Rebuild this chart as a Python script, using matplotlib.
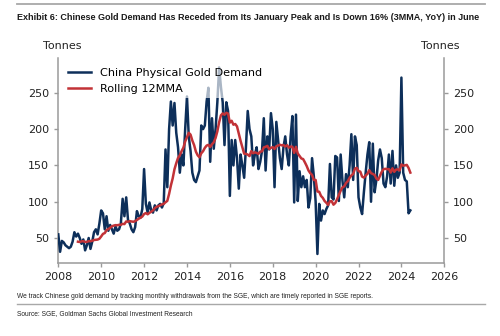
import matplotlib
matplotlib.use("Agg")
import matplotlib.pyplot as plt
from matplotlib.lines import Line2D
import pandas as pd

# Monthly China physical gold demand (tonnes), Jan 2008 - Jun 2024
demand = [
    55, 31, 46, 44, 40, 38, 36, 38, 45, 58, 52, 56,          # 2008
    50, 42, 48, 33, 40, 50, 35, 45, 58, 62, 55, 70,          # 2009
    88, 84, 62, 80, 60, 68, 62, 56, 66, 60, 62, 70,          # 2010
    104, 80, 106, 75, 70, 62, 58, 65, 87, 80, 78, 90,        # 2011
    145, 97, 85, 99, 88, 85, 95, 88, 95, 97, 92, 98,         # 2012
    172, 120, 200, 238, 205, 236, 195, 175, 140, 165, 150, 200,  # 2013
    245, 190, 170, 140, 130, 127, 135, 143, 205, 200, 205, 238,  # 2014
    257, 155, 215, 173, 200, 237, 285, 258, 237, 178, 237, 225,  # 2015
    108, 185, 150, 185, 160, 118, 165, 150, 133, 175, 225, 200,  # 2016
    190, 150, 165, 175, 145, 155, 170, 215, 143, 190, 172, 222,  # 2017
    200, 120, 210, 185, 160, 145, 175, 190, 165, 150, 190, 218,  # 2018
    99, 220, 101, 142, 120, 135, 120, 130, 92, 105, 160, 135,    # 2019
    100, 28, 97, 74, 88, 83, 90, 95, 152, 106, 103, 163,         # 2020
    161, 101, 165, 129, 106, 138, 120, 150, 193, 130, 190, 178,  # 2021
    106, 92, 83, 113, 140, 165, 182, 100, 180, 113, 130, 157,    # 2022
    172, 160, 125, 120, 135, 165, 125, 170, 122, 150, 133, 140,  # 2023
    271, 140, 130, 128, 84, 88,                                  # 2024
]
start_month = "2008-01-01"

x_ticks = list(range(2008, 2027, 2))
y_ticks = [50, 100, 150, 200, 250]

title = ("Exhibit 6: Chinese Gold Demand Has Receded from Its January Peak "
         "and Is Down 16% (3MMA, YoY) in June")
note = ("We track Chinese gold demand by tracking monthly withdrawals from the SGE, "
        "which are timely reported in SGE reports.")
source = "Source: SGE, Goldman Sachs Global Investment Research"

NAVY = "#0d2f5a"
RED = "#c23237"
GREY = "#9a9a9a"
HEADER_FONT = "Liberation Sans"

dates = pd.date_range(start_month, periods=len(demand), freq="MS")
s = pd.Series(demand, index=dates, dtype=float)
mma = s.rolling(12).mean()
x = dates.year + (dates.month - 1) / 12.0

fig = plt.figure(figsize=(5.0, 3.36), dpi=100)
ax = fig.add_axes([0.1166, 0.2182, 0.772, 0.6092])

ax.plot(x, s.values, color=NAVY, lw=1.8, label="China Physical Gold Demand", zorder=3)
ax.plot(x, mma.values, color=RED, lw=1.8, label="Rolling 12MMA", zorder=4)

ax.set_xlim(2008, 2026)
ax.set_ylim(16, 298)
ax.set_xticks(x_ticks)
ax.set_yticks(y_ticks)

ax2 = ax.twinx()
ax2.set_ylim(ax.get_ylim())
ax2.set_yticks(y_ticks)

for a in (ax, ax2):
    for side in ("top", "left", "right", "bottom"):
        a.spines[side].set_visible(False)
    a.tick_params(colors=GREY, labelcolor="#222222", labelsize=8, length=3, width=1)
ax.spines["left"].set_visible(True)
ax.spines["bottom"].set_visible(True)
ax2.spines["right"].set_visible(True)
for sp in (ax.spines["left"], ax.spines["bottom"], ax2.spines["right"]):
    sp.set_color(GREY)
    sp.set_linewidth(1.1)

ax.text(0.01, 1.035, "Tonnes", transform=ax.transAxes, fontsize=8, ha="center",
        va="bottom", color="#222222")
ax.text(0.99, 1.035, "Tonnes", transform=ax.transAxes, fontsize=8, ha="center",
        va="bottom", color="#222222")

leg = ax2.legend(*ax.get_legend_handles_labels(), loc="upper left", fontsize=8.1,
                 frameon=True, fancybox=False, framealpha=0.65)
leg.get_frame().set_facecolor("white")
leg.get_frame().set_edgecolor("none")

# header / footer furniture
fig.add_artist(Line2D([0.034, 0.97], [1 - 4.3 / 336] * 2, color="#a8a8a8", lw=1.3))
fig.text(0.034, 1 - 17 / 336, title, family=HEADER_FONT, fontweight="bold",
         fontsize=6.45, va="center", ha="left", color="#1a1a1a")
fig.text(0.034, 1 - 296.7 / 336, note, family=HEADER_FONT, fontsize=4.8,
         va="center", ha="left", color="#222222")
fig.add_artist(Line2D([0.034, 0.97], [1 - 304.3 / 336] * 2, color="#a8a8a8", lw=1.0))
fig.text(0.034, 1 - 313.3 / 336, source, family=HEADER_FONT, fontsize=4.8,
         va="center", ha="left", color="#222222")

fig.savefig("out.png", dpi=100)
